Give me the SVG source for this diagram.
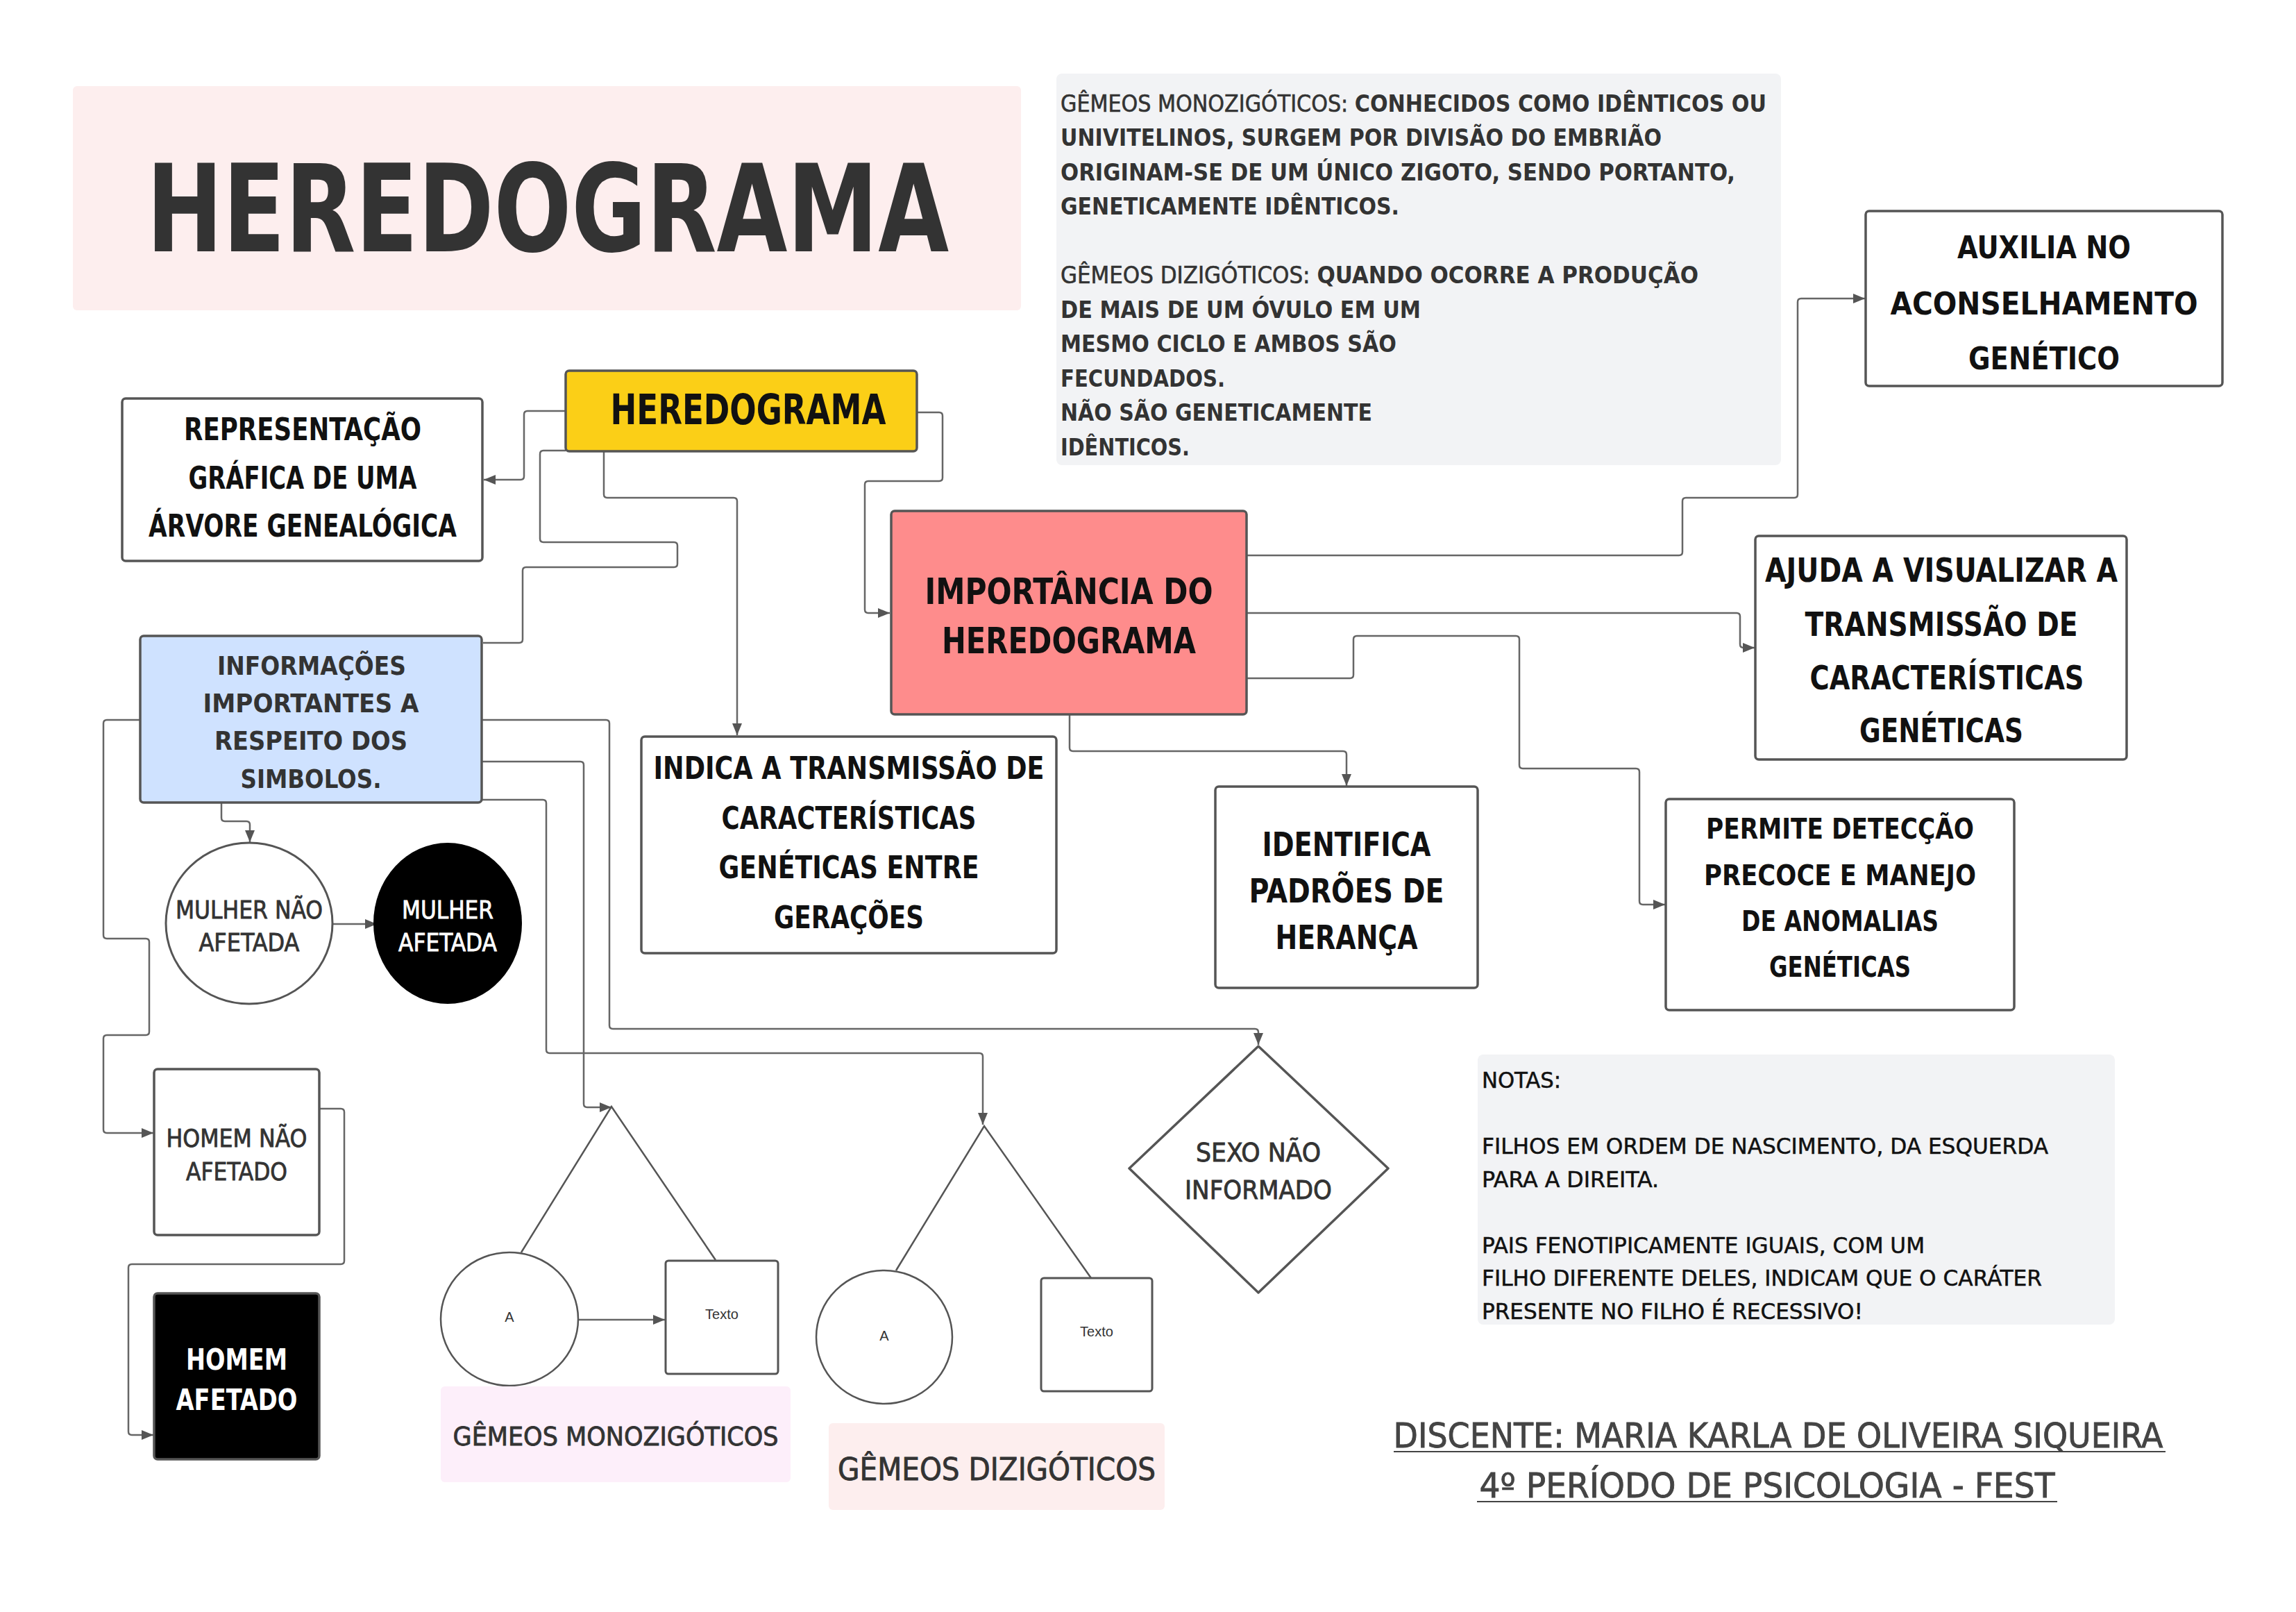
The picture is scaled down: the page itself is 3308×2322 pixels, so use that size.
<svg xmlns="http://www.w3.org/2000/svg" width="3308" height="2322" viewBox="0 0 3308 2322">
<defs>
<marker id="ah" markerWidth="18" markerHeight="14" refX="17" refY="7" orient="auto" markerUnits="userSpaceOnUse"><path d="M0,0 L17,7 L0,14 z" fill="#555"/></marker>
<style>
.t{font-family:"DejaVu Sans Condensed","DejaVu Sans",sans-serif;font-stretch:condensed;}
.c{text-anchor:middle;}
.b{font-weight:bold;}
.n{font-weight:normal;}
.box{stroke:#555;stroke-width:3.5;}
.con{fill:none;stroke:#666;stroke-width:2.5;stroke-linejoin:round;}
.tw{fill:none;stroke:#555;stroke-width:2.5;}
.sm{font-family:"Liberation Sans",Arial,sans-serif;font-size:20px;fill:#333;text-anchor:middle;}
</style>
</defs>
<rect width="3308" height="2322" fill="#ffffff"/>

<g id="title">
<rect x="105" y="124" width="1366" height="323" rx="6" fill="#fdeeee"/>
<text class="t c b" x="789" y="362" font-size="175" fill="#333" textLength="1156" lengthAdjust="spacingAndGlyphs">HEREDOGRAMA</text>
</g>

<g id="notes-gemeos">
<rect x="1522" y="106" width="1044" height="564" rx="8" fill="#f2f3f5"/>
<g class="t" font-size="34" fill="#333">
<text x="1528" y="161" textLength="1017" lengthAdjust="spacingAndGlyphs"><tspan class="n" stroke="#333" stroke-width="0.6">GÊMEOS MONOZIGÓTICOS: </tspan><tspan class="b">CONHECIDOS COMO IDÊNTICOS OU</tspan></text>
<text class="b" x="1528" y="210" textLength="866" lengthAdjust="spacingAndGlyphs">UNIVITELINOS, SURGEM POR DIVISÃO DO EMBRIÃO</text>
<text class="b" x="1528" y="260" textLength="972" lengthAdjust="spacingAndGlyphs">ORIGINAM-SE DE UM ÚNICO ZIGOTO, SENDO PORTANTO,</text>
<text class="b" x="1528" y="309" textLength="488" lengthAdjust="spacingAndGlyphs">GENETICAMENTE IDÊNTICOS.</text>
<text x="1528" y="408" textLength="919" lengthAdjust="spacingAndGlyphs"><tspan class="n" stroke="#333" stroke-width="0.6">GÊMEOS DIZIGÓTICOS: </tspan><tspan class="b">QUANDO OCORRE A PRODUÇÃO</tspan></text>
<text class="b" x="1528" y="458" textLength="519" lengthAdjust="spacingAndGlyphs">DE MAIS DE UM ÓVULO EM UM</text>
<text class="b" x="1528" y="507" textLength="484" lengthAdjust="spacingAndGlyphs">MESMO CICLO E AMBOS SÃO</text>
<text class="b" x="1528" y="557" textLength="237" lengthAdjust="spacingAndGlyphs">FECUNDADOS.</text>
<text class="b" x="1528" y="606" textLength="449" lengthAdjust="spacingAndGlyphs">NÃO SÃO GENETICAMENTE</text>
<text class="b" x="1528" y="656" textLength="186" lengthAdjust="spacingAndGlyphs">IDÊNTICOS.</text>
</g>
</g>

<g id="connectors">
<path class="con" d="M814,592 H760 Q755,592 755,597 V686 Q755,691 750,691 H697" marker-end="url(#ah)"/>
<path class="con" d="M815,649 H783 Q778,649 778,654 V776 Q778,781 783,781 H971 Q976,781 976,786 V812 Q976,817 971,817 H758 Q753,817 753,822 V921 Q753,926 748,926 H696"/>
<path class="con" d="M870,650 V712 Q870,717 875,717 H1057 Q1062,717 1062,722 V1059" marker-end="url(#ah)"/>
<path class="con" d="M1321,594 H1353 Q1358,594 1358,599 V688 Q1358,693 1353,693 H1251 Q1246,693 1246,698 V878 Q1246,883 1251,883 H1282" marker-end="url(#ah)"/>
<path class="con" d="M1796,800 H2419 Q2424,800 2424,795 V722 Q2424,717 2429,717 H2585 Q2590,717 2590,712 V435 Q2590,430 2595,430 H2687" marker-end="url(#ah)"/>
<path class="con" d="M1796,883 H2502 Q2507,883 2507,888 V928 Q2507,933 2512,933 H2528" marker-end="url(#ah)"/>
<path class="con" d="M1796,977 H1945 Q1950,977 1950,972 V921 Q1950,916 1955,916 H2184 Q2189,916 2189,921 V1102 Q2189,1107 2194,1107 H2357 Q2362,1107 2362,1112 V1298 Q2362,1303 2367,1303 H2399" marker-end="url(#ah)"/>
<path class="con" d="M1541,1029 V1077 Q1541,1082 1546,1082 H1935 Q1940,1082 1940,1087 V1132" marker-end="url(#ah)"/>
<path class="con" d="M319,1156 V1178 Q319,1183 324,1183 H355 Q360,1183 360,1188 V1213" marker-end="url(#ah)"/>
<path class="con" d="M202,1037 H154 Q149,1037 149,1042 V1347 Q149,1352 154,1352 H210 Q215,1352 215,1357 V1486 Q215,1491 210,1491 H154 Q149,1491 149,1496 V1627 Q149,1632 154,1632 H221" marker-end="url(#ah)"/>
<path class="con" d="M694,1037 H873 Q878,1037 878,1042 V1477 Q878,1482 883,1482 H1808 Q1813,1482 1813,1487 V1505" marker-end="url(#ah)"/>
<path class="con" d="M694,1097 H836 Q841,1097 841,1102 V1590 Q841,1595 846,1595 H881" marker-end="url(#ah)"/>
<path class="con" d="M694,1152 H782 Q787,1152 787,1157 V1512 Q787,1517 792,1517 H1411 Q1416,1517 1416,1522 V1620" marker-end="url(#ah)"/>
<path class="con" d="M480,1331 H543" marker-end="url(#ah)"/>
<path class="con" d="M460,1597 H491 Q496,1597 496,1602 V1816 Q496,1821 491,1821 H190 Q185,1821 185,1826 V2062 Q185,2067 190,2067 H221" marker-end="url(#ah)"/>
<path class="con" d="M833,1901 H958" marker-end="url(#ah)"/>
</g>

<g id="heredograma">
<rect class="box" x="815" y="534" width="506" height="116" rx="5" fill="#fbcf17"/>
<text class="t c b" x="1078" y="611" font-size="60" fill="#111" textLength="397" lengthAdjust="spacingAndGlyphs">HEREDOGRAMA</text>
</g>

<g id="representacao">
<rect class="box" x="176" y="574" width="519" height="234" rx="5" fill="#fff"/>
<g class="t c b" font-size="44" fill="#111">
<text x="436" y="634" textLength="342" lengthAdjust="spacingAndGlyphs">REPRESENTAÇÃO</text>
<text x="436" y="704" textLength="329" lengthAdjust="spacingAndGlyphs">GRÁFICA DE UMA</text>
<text x="436" y="773" textLength="444" lengthAdjust="spacingAndGlyphs">ÁRVORE GENEALÓGICA</text>
</g>
</g>

<g id="informacoes">
<rect class="box" x="202" y="916" width="492" height="240" rx="5" fill="#cfe2ff"/>
<g class="t c b" font-size="38" fill="#333">
<text x="449" y="972" textLength="272" lengthAdjust="spacingAndGlyphs">INFORMAÇÕES</text>
<text x="448" y="1026" textLength="311" lengthAdjust="spacingAndGlyphs">IMPORTANTES A</text>
<text x="448" y="1080" textLength="278" lengthAdjust="spacingAndGlyphs">RESPEITO DOS</text>
<text x="448" y="1135" textLength="203" lengthAdjust="spacingAndGlyphs">SIMBOLOS.</text>
</g>
</g>

<g id="importancia">
<rect class="box" x="1284" y="736" width="512" height="293" rx="5" fill="#fe8c8c"/>
<g class="t c b" font-size="51" fill="#111">
<text x="1540" y="870" textLength="415" lengthAdjust="spacingAndGlyphs">IMPORTÂNCIA DO</text>
<text x="1540" y="941" textLength="366" lengthAdjust="spacingAndGlyphs">HEREDOGRAMA</text>
</g>
</g>

<g id="indica">
<rect class="box" x="924" y="1061" width="598" height="312" rx="5" fill="#fff"/>
<g class="t c b" font-size="44" fill="#111">
<text x="1223" y="1122" textLength="563" lengthAdjust="spacingAndGlyphs">INDICA A TRANSMISSÃO DE</text>
<text x="1223" y="1194" textLength="367" lengthAdjust="spacingAndGlyphs">CARACTERÍSTICAS</text>
<text x="1223" y="1265" textLength="375" lengthAdjust="spacingAndGlyphs">GENÉTICAS ENTRE</text>
<text x="1223" y="1337" textLength="216" lengthAdjust="spacingAndGlyphs">GERAÇÕES</text>
</g>
</g>

<g id="identifica">
<rect class="box" x="1751" y="1133" width="378" height="290" rx="5" fill="#fff"/>
<g class="t c b" font-size="48" fill="#111">
<text x="1940" y="1233" textLength="243" lengthAdjust="spacingAndGlyphs">IDENTIFICA</text>
<text x="1940" y="1300" textLength="281" lengthAdjust="spacingAndGlyphs">PADRÕES DE</text>
<text x="1940" y="1367" textLength="205" lengthAdjust="spacingAndGlyphs">HERANÇA</text>
</g>
</g>

<g id="permite">
<rect class="box" x="2400" y="1151" width="502" height="304" rx="5" fill="#fff"/>
<g class="t c b" font-size="41" fill="#111">
<text x="2651" y="1208" textLength="386" lengthAdjust="spacingAndGlyphs">PERMITE DETECÇÃO</text>
<text x="2651" y="1275" textLength="392" lengthAdjust="spacingAndGlyphs">PRECOCE E MANEJO</text>
<text x="2651" y="1341" textLength="284" lengthAdjust="spacingAndGlyphs">DE ANOMALIAS</text>
<text x="2651" y="1407" textLength="204" lengthAdjust="spacingAndGlyphs">GENÉTICAS</text>
</g>
</g>

<g id="ajuda">
<rect class="box" x="2529" y="772" width="535" height="322" rx="5" fill="#fff"/>
<g class="t c b" font-size="48" fill="#111">
<text x="2797" y="838" textLength="508" lengthAdjust="spacingAndGlyphs">AJUDA A VISUALIZAR A</text>
<text x="2797" y="916" textLength="393" lengthAdjust="spacingAndGlyphs">TRANSMISSÃO DE</text>
<text x="2805" y="993" textLength="395" lengthAdjust="spacingAndGlyphs">CARACTERÍSTICAS</text>
<text x="2797" y="1069" textLength="236" lengthAdjust="spacingAndGlyphs">GENÉTICAS</text>
</g>
</g>

<g id="auxilia">
<rect class="box" x="2688" y="304" width="514" height="252" rx="5" fill="#fff"/>
<g class="t c b" font-size="45" fill="#111">
<text x="2945" y="372" textLength="250" lengthAdjust="spacingAndGlyphs">AUXILIA NO</text>
<text x="2945" y="453" textLength="443" lengthAdjust="spacingAndGlyphs">ACONSELHAMENTO</text>
<text x="2945" y="532" textLength="218" lengthAdjust="spacingAndGlyphs">GENÉTICO</text>
</g>
</g>

<g id="mulher-nao-afetada">
<ellipse cx="359" cy="1330" rx="120" ry="116" fill="#fff" stroke="#555" stroke-width="3"/>
<g class="t c n" font-size="36" fill="#333" stroke="#333" stroke-width="0.8">
<text x="359" y="1323" textLength="212" lengthAdjust="spacingAndGlyphs">MULHER NÃO</text>
<text x="359" y="1370" textLength="145" lengthAdjust="spacingAndGlyphs">AFETADA</text>
</g>
</g>

<g id="mulher-afetada">
<ellipse cx="645" cy="1330" rx="107" ry="116" fill="#000"/>
<g class="t c n" font-size="36" fill="#fff" stroke="#fff" stroke-width="0.8">
<text x="645" y="1323" textLength="132" lengthAdjust="spacingAndGlyphs">MULHER</text>
<text x="645" y="1370" textLength="142" lengthAdjust="spacingAndGlyphs">AFETADA</text>
</g>
</g>

<g id="homem-nao-afetado">
<rect class="box" x="222" y="1540" width="238" height="239" rx="5" fill="#fff"/>
<g class="t c n" font-size="36" fill="#333" stroke="#333" stroke-width="0.8">
<text x="341" y="1652" textLength="203" lengthAdjust="spacingAndGlyphs">HOMEM NÃO</text>
<text x="341" y="1700" textLength="146" lengthAdjust="spacingAndGlyphs">AFETADO</text>
</g>
</g>

<g id="homem-afetado">
<rect class="box" x="222" y="1863" width="238" height="239" rx="5" fill="#000"/>
<g class="t c b" font-size="42" fill="#fff">
<text x="341" y="1973" textLength="146" lengthAdjust="spacingAndGlyphs">HOMEM</text>
<text x="341" y="2031" textLength="175" lengthAdjust="spacingAndGlyphs">AFETADO</text>
</g>
</g>

<g id="sexo-nao-informado">
<path d="M1813,1507 L2000,1683 L1813,1862 L1627,1683 Z" fill="#fff" stroke="#555" stroke-width="3.5" stroke-linejoin="round"/>
<g class="t c n" font-size="37" fill="#333" stroke="#333" stroke-width="0.8">
<text x="1813" y="1673" textLength="180" lengthAdjust="spacingAndGlyphs">SEXO NÃO</text>
<text x="1813" y="1727" textLength="212" lengthAdjust="spacingAndGlyphs">INFORMADO</text>
</g>
</g>

<g id="gemeos-monozigoticos">
<path class="tw" d="M751,1804 L881,1594 L1031,1815"/>
<ellipse cx="734" cy="1900" rx="99" ry="96" fill="#fff" stroke="#555" stroke-width="2.5"/>
<text class="sm" x="734" y="1904">A</text>
<rect x="959" y="1816" width="162" height="163" rx="4" fill="#fff" stroke="#555" stroke-width="3"/>
<text class="sm" x="1040" y="1900">Texto</text>
<rect x="635" y="1997" width="504" height="138" rx="6" fill="#fdeffa"/>
<text class="t c n" x="887" y="2082" font-size="37" fill="#333" stroke="#333" stroke-width="0.8" textLength="469" lengthAdjust="spacingAndGlyphs">GÊMEOS MONOZIGÓTICOS</text>
</g>

<g id="gemeos-dizigoticos">
<path class="tw" d="M1291,1830 L1418,1622 L1572,1841"/>
<ellipse cx="1274" cy="1926" rx="98" ry="96" fill="#fff" stroke="#555" stroke-width="2.5"/>
<text class="sm" x="1274" y="1931">A</text>
<rect x="1500" y="1841" width="160" height="163" rx="4" fill="#fff" stroke="#555" stroke-width="3"/>
<text class="sm" x="1580" y="1925">Texto</text>
<rect x="1194" y="2050" width="484" height="125" rx="6" fill="#fdeeee"/>
<text class="t c n" x="1436" y="2132" font-size="44" fill="#333" stroke="#333" stroke-width="0.8" textLength="458" lengthAdjust="spacingAndGlyphs">GÊMEOS DIZIGÓTICOS</text>
</g>

<g id="notas">
<rect x="2129" y="1519" width="918" height="389" rx="8" fill="#f2f3f5"/>
<g class="t n" font-size="32" fill="#111" stroke="#111" stroke-width="0.5">
<text x="2135" y="1567" textLength="114" lengthAdjust="spacingAndGlyphs">NOTAS:</text>
<text x="2135" y="1662" textLength="816" lengthAdjust="spacingAndGlyphs">FILHOS EM ORDEM DE NASCIMENTO, DA ESQUERDA</text>
<text x="2135" y="1710" textLength="255" lengthAdjust="spacingAndGlyphs">PARA A DIREITA.</text>
<text x="2135" y="1805" textLength="638" lengthAdjust="spacingAndGlyphs">PAIS FENOTIPICAMENTE IGUAIS, COM UM</text>
<text x="2135" y="1852" textLength="807" lengthAdjust="spacingAndGlyphs">FILHO DIFERENTE DELES, INDICAM QUE O CARÁTER</text>
<text x="2135" y="1900" textLength="549" lengthAdjust="spacingAndGlyphs">PRESENTE NO FILHO É RECESSIVO!</text>
</g>
</g>

<g id="discente">
<g class="t c n" font-size="49" fill="#444" stroke="#444" stroke-width="0.8">
<text x="2562" y="2085" textLength="1109" lengthAdjust="spacingAndGlyphs">DISCENTE: MARIA KARLA DE OLIVEIRA SIQUEIRA</text>
<text x="2546" y="2157" textLength="829" lengthAdjust="spacingAndGlyphs">4º PERÍODO DE PSICOLOGIA - FEST</text>
</g>
<line x1="2008" y1="2091" x2="3120" y2="2091" stroke="#444" stroke-width="2"/>
<line x1="2128" y1="2163" x2="2964" y2="2163" stroke="#444" stroke-width="2"/>
</g>
</svg>
